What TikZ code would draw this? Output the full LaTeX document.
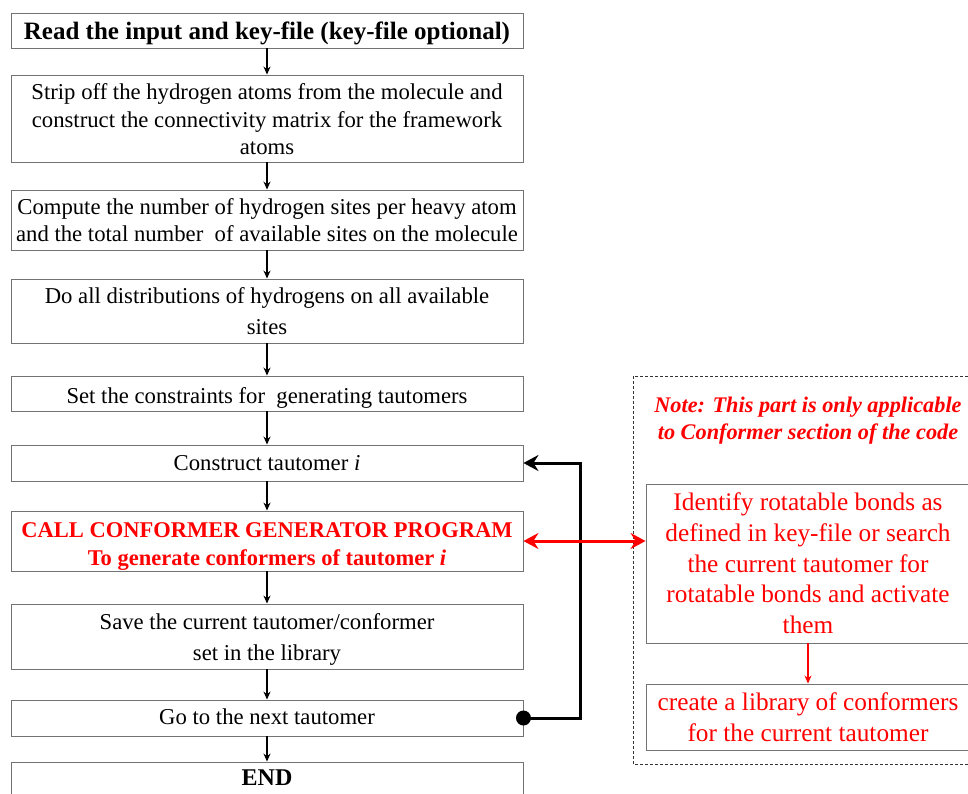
\documentclass[tikz,border=0pt]{standalone}
\usepackage{fontspec}
\setmainfont{Liberation Serif}
\usetikzlibrary{arrows.meta}
\newcommand\tx[2][3pt]{\raisebox{-#1}[\height][\depth]{\begin{tabular}{@{}c@{}}#2\end{tabular}}}
\begin{document}
\begin{tikzpicture}[x=1pt,y=-1pt,
  box/.style={draw=black!55, line width=0.9pt, minimum width=512pt, inner sep=0pt,
    align=center, font=\fontsize{22.7}{27.5}\selectfont},
  rbox/.style={draw=black!55, line width=0.9pt, minimum width=324pt, inner sep=0pt,
    align=center, text=red, font=\fontsize{25.3}{30.7}\selectfont},
  flow/.style={line width=1.6pt, -{Stealth[length=8pt,width=7pt]}},
  loop/.style={line width=3pt, -{Stealth[length=15pt,width=16pt,inset=5pt]}},
  redlink/.style={red, line width=3pt, {Stealth[length=15pt,width=16pt,inset=5pt]}-{Stealth[length=15pt,width=16pt,inset=5pt]}},
  redflow/.style={red, line width=1.6pt, -{Stealth[length=8pt,width=7pt]}},
  notebox/.style={draw=black!80, line width=1pt, dashed, dash pattern=on 3pt off 2pt}
]
\useasboundingbox (0,0) rectangle (968,793);
\clip (0,0) rectangle (968,793);
\node[box, minimum height=35pt, font=\fontsize{25}{30}\selectfont\bfseries] (b1) at (267,30.5) {\tx{Read the input and key-file (key-file optional)}};
\node[box, minimum height=87pt] (b2) at (267,118.5) {\tx{Strip off the hydrogen atoms from the molecule and\\construct the connectivity matrix for the framework\\atoms}};
\node[box, minimum height=60pt] (b3) at (267,220) {\tx[2.5pt]{Compute the number of hydrogen sites per heavy atom\\and the total number\ \ of available sites on the molecule}};
\node[box, minimum height=64pt, font=\fontsize{22.7}{31}\selectfont] (b4) at (267,311) {\tx[2pt]{Do all distributions of hydrogens on all available\\sites}};
\node[box, minimum height=35pt] (b5) at (267,393.5) {\tx[4pt]{Set the constraints for\ \ generating tautomers}};
\node[box, minimum height=36pt] (b6) at (267,463) {\tx[2pt]{Construct tautomer \textit{i}}};
\node[box, minimum height=60pt, text=red, font=\fontsize{22.5}{28}\selectfont\bfseries] (b7) at (267,541) {\tx[5pt]{CALL CONFORMER GENERATOR PROGRAM\\To generate conformers of tautomer \textit{i}}};
\node[box, minimum height=65pt, font=\fontsize{22.7}{31}\selectfont] (b8) at (267,636.5) {\tx[2pt]{Save the current tautomer/conformer\\set in the library}};
\node[box, minimum height=36pt] (b9) at (267,718) {\tx[1pt]{Go to the next tautomer}};
\node[box, minimum height=34pt, font=\fontsize{24}{28}\selectfont\bfseries] (b10) at (267,779) {\tx[1pt]{END}};

\draw[notebox] (633,376) rectangle (990,764);
\node[text=red, align=center, inner sep=0pt, font=\fontsize{22.3}{27}\selectfont\bfseries\itshape] (note) at (808,421) {Note: This part is only applicable\\to Conformer section of the code};
\node[rbox, minimum height=159pt] (r1) at (808,563.5) {Identify rotatable bonds as\\defined in key-file or search\\the current tautomer for\\rotatable bonds and activate\\them};
\node[rbox, minimum height=66pt] (r2) at (808,717) {create a library of conformers\\for the current tautomer};

\draw[flow] (b1) -- (b2);
\draw[flow] (b2) -- (b3);
\draw[flow] (b3) -- (b4);
\draw[flow] (b4) -- (b5);
\draw[flow] (b5) -- (b6);
\draw[flow] (b6) -- (b7);
\draw[flow] (b7) -- (b8);
\draw[flow] (b8) -- (b9);
\draw[flow] (b9) -- (b10);

\coordinate (turn) at (580,718);
\draw[loop] (b9.east) -- (turn) |- (b6.east);
\fill (b9.east) circle (7.5pt);
\draw[redlink] (b7.east) -- (b7.east -| r1.west);
\draw[redflow] (r1) -- (r2);
\end{tikzpicture}
\end{document}
